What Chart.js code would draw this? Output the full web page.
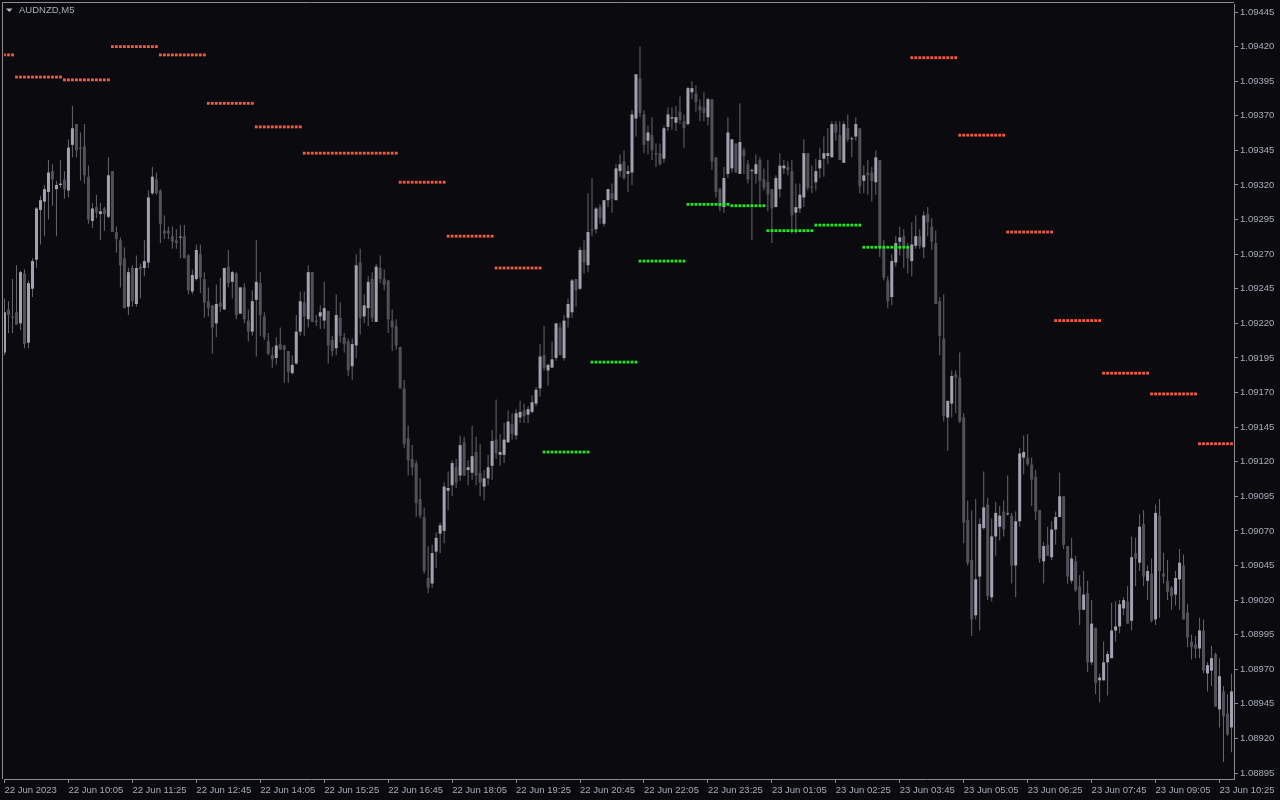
<!DOCTYPE html>
<html>
<head>
<meta charset="utf-8">
<title>AUDNZD,M5</title>
<script src="https://cdn.jsdelivr.net/npm/chart.js@4.4.0/dist/chart.umd.min.js"></script>
<style>
    html, body { margin: 0; padding: 0; background: #0a0a0f; }
    canvas { display: block; }
</style>
</head>
<body>
<canvas id="myChart" width="1280" height="800"></canvas>
<script>
//AUDNZD M5 candles, oldest bar first
const openPrices = [
    1.09199,1.09230,1.09225,1.09228,1.09220,1.09256,1.09206,1.09245,1.09266,1.09302,
    1.09308,1.09315,1.09330,1.09317,1.09320,1.09324,1.09316,1.09349,1.09364,1.09347,
    1.09348,1.09326,1.09294,1.09304,1.09299,1.09303,1.09297,1.09330,1.09286,1.09280,
    1.09267,1.09232,1.09260,1.09234,1.09261,1.09260,1.09264,1.09314,1.09324,1.09316,
    1.09287,1.09287,1.09283,1.09280,1.09282,1.09283,1.09269,1.09243,1.09252,1.09270,
    1.09252,1.09236,1.09233,1.09220,1.09235,1.09230,1.09261,1.09250,1.09256,1.09227,
    1.09246,1.09222,1.09214,1.09237,1.09249,1.09225,1.09207,1.09197,1.09195,1.09205,
    1.09204,1.09200,1.09184,1.09191,1.09214,1.09235,1.09223,1.09257,1.09222,1.09225,
    1.09222,1.09229,1.09208,1.09202,1.09224,1.09210,1.09207,1.09189,1.09204,1.09264,
    1.09225,1.09231,1.09252,1.09221,1.09260,1.09252,1.09251,1.09222,1.09218,1.09203,
    1.09173,1.09137,1.09122,1.09119,1.09093,1.09080,1.09036,1.09032,1.09055,1.09068,
    1.09070,1.09099,1.09103,1.09116,1.09110,1.09134,1.09114,1.09112,1.09127,1.09112,
    1.09102,1.09108,1.09117,1.09136,1.09125,1.09125,1.09134,1.09147,1.09139,1.09152,
    1.09157,1.09154,1.09156,1.09162,1.09173,1.09197,1.09186,1.09188,1.09195,1.09217,
    1.09195,1.09224,1.09228,1.09252,1.09245,1.09273,1.09262,1.09288,1.09288,1.09304,
    1.09292,1.09309,1.09314,1.09309,1.09330,1.09337,1.09328,1.09329,1.09368,1.09397,
    1.09371,1.09352,1.09356,1.09343,1.09343,1.09339,1.09362,1.09368,1.09365,1.09373,
    1.09366,1.09364,1.09387,1.09386,1.09377,1.09376,1.09369,1.09382,1.09340,1.09317,
    1.09304,1.09328,1.09332,1.09350,1.09328,1.09345,1.09335,1.09330,1.09328,1.09338,
    1.09324,1.09322,1.09317,1.09304,1.09317,1.09332,1.09333,1.09330,1.09300,1.09303,
    1.09311,1.09343,1.09319,1.09322,1.09332,1.09339,1.09341,1.09340,1.09364,1.09356,
    1.09336,1.09361,1.09353,1.09355,1.09361,1.09323,1.09329,1.09329,1.09322,1.09338,
    1.09275,1.09251,1.09239,1.09264,1.09279,1.09283,1.09276,1.09265,1.09276,1.09283,
    1.09275,1.09299,1.09290,1.09278,1.09236,1.09209,1.09152,1.09162,1.09183,1.09181,
    1.09152,1.09078,1.09049,1.09009,1.09037,1.09072,1.09089,1.09022,1.09066,1.09073,
    1.09084,1.09082,1.09081,1.09045,1.09077,1.09123,1.09123,1.09118,1.09109,1.09085,
    1.09048,1.09060,1.09051,1.09071,1.09080,1.09095,1.09059,1.09034,1.09048,1.09030,
    1.09013,1.09025,1.08975,1.09000,1.08962,1.08962,1.08975,1.08978,1.08998,1.09001,
    1.09014,1.09019,1.09005,1.09054,1.09047,1.09075,1.09034,1.09039,1.09006,1.09081,
    1.09039,1.09034,1.09029,1.09024,1.09035,1.09045,1.09011,1.08990,1.08988,1.08985,
    1.08998,1.08967,1.08969,1.08981,1.08941,1.08954,1.08938,1.08928
];
const highPrices = [
    1.09238,1.09236,1.09252,1.09262,1.09258,1.09259,1.09251,1.09267,1.09304,1.09312,
    1.09320,1.09338,1.09335,1.09323,1.09338,1.09330,1.09353,1.09377,1.09364,1.09358,
    1.09364,1.09334,1.09307,1.09313,1.09307,1.09304,1.09340,1.09330,1.09290,1.09282,
    1.09275,1.09260,1.09262,1.09269,1.09263,1.09280,1.09316,1.09333,1.09329,1.09317,
    1.09298,1.09290,1.09290,1.09288,1.09291,1.09291,1.09270,1.09259,1.09277,1.09277,
    1.09257,1.09246,1.09233,1.09248,1.09253,1.09260,1.09273,1.09258,1.09257,1.09246,
    1.09249,1.09230,1.09244,1.09280,1.09257,1.09228,1.09213,1.09203,1.09210,1.09217,
    1.09204,1.09200,1.09197,1.09226,1.09243,1.09243,1.09262,1.09257,1.09226,1.09233,
    1.09250,1.09229,1.09211,1.09241,1.09235,1.09213,1.09209,1.09209,1.09270,1.09274,
    1.09241,1.09254,1.09257,1.09263,1.09269,1.09259,1.09251,1.09230,1.09223,1.09203,
    1.09179,1.09146,1.09132,1.09121,1.09108,1.09087,1.09059,1.09060,1.09069,1.09076,
    1.09105,1.09113,1.09121,1.09122,1.09139,1.09138,1.09121,1.09146,1.09138,1.09133,
    1.09114,1.09125,1.09143,1.09165,1.09140,1.09148,1.09157,1.09155,1.09158,1.09164,
    1.09162,1.09160,1.09168,1.09174,1.09205,1.09218,1.09191,1.09207,1.09220,1.09220,
    1.09226,1.09238,1.09252,1.09252,1.09275,1.09280,1.09314,1.09325,1.09304,1.09306,
    1.09309,1.09317,1.09321,1.09335,1.09342,1.09345,1.09334,1.09374,1.09400,1.09420,
    1.09374,1.09363,1.09369,1.09350,1.09350,1.09363,1.09376,1.09376,1.09377,1.09384,
    1.09371,1.09391,1.09395,1.09392,1.09382,1.09387,1.09383,1.09382,1.09340,1.09318,
    1.09333,1.09369,1.09353,1.09350,1.09379,1.09347,1.09338,1.09332,1.09342,1.09340,
    1.09332,1.09338,1.09317,1.09327,1.09343,1.09338,1.09337,1.09338,1.09321,1.09321,
    1.09353,1.09343,1.09334,1.09339,1.09347,1.09355,1.09361,1.09366,1.09366,1.09366,
    1.09366,1.09371,1.09355,1.09369,1.09361,1.09334,1.09338,1.09333,1.09345,1.09338,
    1.09280,1.09254,1.09270,1.09283,1.09290,1.09288,1.09278,1.09293,1.09298,1.09288,
    1.09301,1.09304,1.09296,1.09287,1.09239,1.09241,1.09164,1.09186,1.09186,1.09199,
    1.09155,1.09092,1.09085,1.09093,1.09079,1.09113,1.09094,1.09079,1.09091,1.09088,
    1.09092,1.09110,1.09083,1.09084,1.09130,1.09139,1.09140,1.09123,1.09114,1.09085,
    1.09062,1.09073,1.09077,1.09084,1.09112,1.09095,1.09059,1.09065,1.09052,1.09038,
    1.09041,1.09034,1.09020,1.09000,1.08967,1.08990,1.08983,1.09018,1.09019,1.09020,
    1.09022,1.09030,1.09066,1.09065,1.09082,1.09085,1.09045,1.09050,1.09089,1.09093,
    1.09054,1.09049,1.09030,1.09041,1.09057,1.09053,1.09017,1.08995,1.08994,1.09007,
    1.09006,1.08975,1.08987,1.08982,1.08978,1.08958,1.08952,1.08967
];
const lowPrices = [
    1.09197,1.09213,1.09213,1.09224,1.09215,1.09202,1.09202,1.09239,1.09260,1.09277,
    1.09283,1.09295,1.09305,1.09283,1.09318,1.09310,1.09311,1.09340,1.09340,1.09323,
    1.09321,1.09292,1.09289,1.09296,1.09280,1.09287,1.09296,1.09286,1.09271,1.09246,
    1.09231,1.09226,1.09232,1.09232,1.09238,1.09254,1.09260,1.09313,1.09313,1.09278,
    1.09281,1.09281,1.09274,1.09274,1.09267,1.09267,1.09241,1.09241,1.09251,1.09242,
    1.09224,1.09225,1.09198,1.09210,1.09228,1.09230,1.09246,1.09238,1.09223,1.09227,
    1.09220,1.09207,1.09211,1.09196,1.09211,1.09208,1.09197,1.09188,1.09190,1.09201,
    1.09177,1.09177,1.09183,1.09190,1.09211,1.09211,1.09217,1.09221,1.09218,1.09216,
    1.09216,1.09191,1.09196,1.09197,1.09206,1.09199,1.09182,1.09179,1.09195,1.09212,
    1.09220,1.09218,1.09221,1.09221,1.09249,1.09244,1.09213,1.09200,1.09201,1.09173,
    1.09130,1.09110,1.09110,1.09080,1.09079,1.09039,1.09025,1.09029,1.09043,1.09054,
    1.09061,1.09085,1.09095,1.09101,1.09106,1.09110,1.09103,1.09107,1.09103,1.09095,
    1.09092,1.09103,1.09107,1.09122,1.09117,1.09119,1.09134,1.09136,1.09136,1.09148,
    1.09148,1.09148,1.09155,1.09160,1.09167,1.09186,1.09175,1.09188,1.09193,1.09197,
    1.09193,1.09217,1.09224,1.09232,1.09244,1.09256,1.09257,1.09283,1.09285,1.09292,
    1.09290,1.09304,1.09300,1.09309,1.09326,1.09324,1.09315,1.09320,1.09355,1.09369,
    1.09343,1.09342,1.09338,1.09333,1.09334,1.09336,1.09359,1.09360,1.09359,1.09364,
    1.09347,1.09363,1.09382,1.09373,1.09366,1.09366,1.09363,1.09331,1.09311,1.09301,
    1.09300,1.09325,1.09329,1.09329,1.09328,1.09328,1.09321,1.09280,1.09321,1.09306,
    1.09316,1.09301,1.09278,1.09304,1.09311,1.09328,1.09327,1.09285,1.09285,1.09300,
    1.09304,1.09316,1.09314,1.09316,1.09325,1.09326,1.09335,1.09340,1.09352,1.09338,
    1.09336,1.09351,1.09340,1.09352,1.09314,1.09314,1.09313,1.09308,1.09313,1.09268,
    1.09251,1.09231,1.09233,1.09261,1.09269,1.09260,1.09256,1.09254,1.09274,1.09274,
    1.09267,1.09283,1.09273,1.09234,1.09197,1.09149,1.09128,1.09152,1.09155,1.09148,
    1.09061,1.09045,1.08994,1.09006,1.08998,1.09071,1.09020,1.09019,1.09052,1.09063,
    1.09066,1.09081,1.09032,1.09022,1.09073,1.09111,1.09117,1.09088,1.09078,1.09047,
    1.09032,1.09052,1.09049,1.09060,1.09080,1.09057,1.09032,1.09032,1.09026,1.09002,
    1.09013,1.08968,1.08973,1.08952,1.08946,1.08962,1.08951,1.08978,1.08990,1.08996,
    1.09009,1.09003,1.08998,1.09030,1.09041,1.09030,1.09020,1.09004,1.09002,1.09007,
    1.09032,1.09020,1.09013,1.09016,1.09013,1.09006,1.08986,1.08977,1.08978,1.08978,
    1.08967,1.08954,1.08958,1.08943,1.08928,1.08903,1.08922,1.08910
];
const closePrices = [
    1.09228,1.09226,1.09224,1.09219,1.09257,1.09205,1.09249,1.09265,1.09303,1.09309,
    1.09317,1.09329,1.09324,1.09320,1.09321,1.09317,1.09347,1.09361,1.09345,1.09346,
    1.09327,1.09295,1.09303,1.09300,1.09301,1.09299,1.09327,1.09286,1.09281,1.09262,
    1.09231,1.09257,1.09236,1.09260,1.09259,1.09265,1.09311,1.09326,1.09314,1.09292,
    1.09285,1.09285,1.09279,1.09278,1.09282,1.09267,1.09244,1.09255,1.09273,1.09253,
    1.09235,1.09231,1.09217,1.09234,1.09232,1.09260,1.09249,1.09257,1.09226,1.09246,
    1.09223,1.09214,1.09236,1.09250,1.09226,1.09210,1.09198,1.09194,1.09204,1.09201,
    1.09201,1.09185,1.09190,1.09214,1.09236,1.09225,1.09257,1.09221,1.09221,1.09228,
    1.09231,1.09204,1.09200,1.09226,1.09211,1.09205,1.09186,1.09205,1.09262,1.09224,
    1.09233,1.09250,1.09224,1.09261,1.09252,1.09248,1.09223,1.09217,1.09204,1.09173,
    1.09133,1.09121,1.09116,1.09090,1.09081,1.09041,1.09029,1.09054,1.09065,1.09074,
    1.09102,1.09101,1.09119,1.09105,1.09132,1.09110,1.09116,1.09124,1.09110,1.09105,
    1.09108,1.09116,1.09135,1.09126,1.09127,1.09136,1.09149,1.09140,1.09155,1.09156,
    1.09153,1.09158,1.09163,1.09172,1.09196,1.09188,1.09190,1.09194,1.09220,1.09197,
    1.09222,1.09234,1.09251,1.09244,1.09273,1.09264,1.09286,1.09287,1.09303,1.09296,
    1.09309,1.09317,1.09310,1.09332,1.09335,1.09325,1.09330,1.09371,1.09400,1.09372,
    1.09349,1.09358,1.09345,1.09342,1.09335,1.09361,1.09371,1.09369,1.09369,1.09367,
    1.09361,1.09390,1.09390,1.09380,1.09374,1.09372,1.09382,1.09337,1.09315,1.09304,
    1.09325,1.09358,1.09353,1.09329,1.09351,1.09341,1.09324,1.09330,1.09335,1.09323,
    1.09318,1.09313,1.09303,1.09325,1.09334,1.09334,1.09331,1.09298,1.09304,1.09313,
    1.09343,1.09318,1.09318,1.09330,1.09338,1.09343,1.09343,1.09364,1.09358,1.09338,
    1.09364,1.09353,1.09353,1.09364,1.09319,1.09327,1.09327,1.09323,1.09340,1.09275,
    1.09253,1.09236,1.09265,1.09278,1.09282,1.09276,1.09267,1.09277,1.09283,1.09276,
    1.09298,1.09293,1.09279,1.09234,1.09211,1.09153,1.09164,1.09182,1.09181,1.09149,
    1.09076,1.09047,1.09006,1.09035,1.09075,1.09087,1.09023,1.09066,1.09083,1.09081,
    1.09071,1.09082,1.09045,1.09077,1.09126,1.09127,1.09118,1.09107,1.09084,1.09050,
    1.09059,1.09052,1.09071,1.09080,1.09095,1.09060,1.09037,1.09050,1.09027,1.09013,
    1.09024,1.08975,1.09003,1.08960,1.08964,1.08975,1.08981,1.08998,1.09001,1.09017,
    1.09020,1.09003,1.09051,1.09050,1.09073,1.09037,1.09041,1.09005,1.09083,1.09041,
    1.09037,1.09026,1.09023,1.09036,1.09047,1.09006,1.08993,1.08986,1.08985,1.08998,
    1.08969,1.08973,1.08978,1.08943,1.08965,1.08936,1.08923,1.08954
];

//Hourly levels (dotted runs): first bar, last bar, price
const resistStart = [0, 3, 15, 27, 39, 51, 63, 75, 99, 111, 123, 227, 239, 251, 263, 275, 287, 299];
const resistEnd = [2, 14, 26, 38, 50, 62, 74, 98, 110, 122, 134, 238, 250, 262, 274, 286, 298, 307];
const resistPrice = [1.09414, 1.09398, 1.09396, 1.09420, 1.09414, 1.09379, 1.09362, 1.09343, 1.09322, 1.09283, 1.09260,
    1.09412, 1.09356, 1.09286, 1.09222, 1.09184, 1.09169, 1.09133];
const supportStart = [135, 147, 159, 171, 182, 191, 203, 215];
const supportEnd = [146, 158, 170, 181, 190, 202, 214, 226];
const supportPrice = [1.09127, 1.09192, 1.09265, 1.09306, 1.09305, 1.09287, 1.09291, 1.09275];

//Axis ticks
const timeTickBars = [0, 16, 32, 48, 64, 80, 96, 112, 128, 144, 160, 176, 192, 208, 224, 240, 256, 272, 288, 304];
const timeLabels = ['22 Jun 2023', '22 Jun 10:05', '22 Jun 11:25', '22 Jun 12:45', '22 Jun 14:05', '22 Jun 15:25',
    '22 Jun 16:45', '22 Jun 18:05', '22 Jun 19:25', '22 Jun 20:45', '22 Jun 22:05', '22 Jun 23:25', '23 Jun 01:05',
    '23 Jun 02:25', '23 Jun 03:45', '23 Jun 05:05', '23 Jun 06:25', '23 Jun 07:45', '23 Jun 09:05', '23 Jun 10:25'];
const priceTicks = [1.09445, 1.09420, 1.09395, 1.09370, 1.09345, 1.09320, 1.09295, 1.09270, 1.09245, 1.09220, 1.09195,
    1.09170, 1.09145, 1.09120, 1.09095, 1.09070, 1.09045, 1.09020, 1.08995, 1.08970, 1.08945, 1.08920, 1.08895];

const axisColor = '#8e8e96';
const textColor = '#a6adba';
const labelFont = { family: 'Liberation Sans', size: 9.5 };

//Build chart data
const wickData = lowPrices.map((low, i) => ({ x: i, y: [low, highPrices[i]] }));
const bodyData = openPrices.map((open, i) => ({
    x: i,
    y: [Math.min(open, closePrices[i]), Math.max(open, closePrices[i])]
}));

function levelPoints(starts, ends, prices) {
    const points = [];
    for (let k = 0; k < starts.length; k++) {
        for (let i = starts[k]; i <= ends[k]; i++) {
            points.push({ x: i, y: prices[k] });
        }
    }
    return points;
}

//Background, frame and symbol caption
const chartFrame = {
    id: 'chartFrame',
    beforeDraw(chart) {
        const c = chart.ctx;
        c.save();
        c.fillStyle = '#0a0a0f';
        c.fillRect(0, 0, chart.width, chart.height);
        c.restore();
    },
    afterDraw(chart) {
        const c = chart.ctx;
        const area = chart.chartArea;
        c.save();
        c.strokeStyle = axisColor;
        c.lineWidth = 1;
        c.beginPath();
        c.moveTo(2.5, area.bottom);
        c.lineTo(2.5, 2.5);
        c.lineTo(area.right, 2.5);
        c.stroke();
        c.fillStyle = '#b8bcc6';
        c.beginPath();
        c.moveTo(6, 8.5);
        c.lineTo(12.5, 8.5);
        c.lineTo(9.25, 12);
        c.closePath();
        c.fill();
        c.fillStyle = textColor;
        c.font = '9.5px "Liberation Sans"';
        c.textBaseline = 'middle';
        c.fillText('AUDNZD,M5', 19, 10.5);
        c.restore();
    }
};

const ctx = document.getElementById('myChart').getContext('2d');
const myChart = new Chart(ctx, {
    type: 'bar',
    data: {
        datasets: [
            {
                type: 'line',
                label: 'Resistance',
                data: levelPoints(resistStart, resistEnd, resistPrice),
                showLine: false,
                pointStyle: 'rect',
                pointRadius: 2,
                pointBorderWidth: 0,
                pointBackgroundColor: '#f45b3e',
                order: 0
            },
            {
                type: 'line',
                label: 'Support',
                data: levelPoints(supportStart, supportEnd, supportPrice),
                showLine: false,
                pointStyle: 'rect',
                pointRadius: 2,
                pointBorderWidth: 0,
                pointBackgroundColor: '#22e622',
                order: 0
            },
            {
                label: 'Body',
                data: bodyData,
                backgroundColor: (c) => closePrices[c.dataIndex] >= openPrices[c.dataIndex] ? '#a2a2b0' : '#515158',
                barThickness: 3,
                minBarLength: 1,
                inflateAmount: 0,
                borderWidth: 0,
                grouped: false,
                order: 1
            },
            {
                label: 'Wick',
                data: wickData,
                backgroundColor: '#66666e',
                barThickness: 1,
                inflateAmount: 0,
                borderWidth: 0,
                grouped: false,
                order: 2
            }
        ]
    },
    options: {
        responsive: false,
        animation: false,
        devicePixelRatio: 1,
        layout: { padding: { left: 3, top: 3, right: 0, bottom: 0 } },
        plugins: {
            legend: { display: false },
            tooltip: { enabled: false }
        },
        scales: {
            x: {
                type: 'linear',
                min: -0.125,
                max: 307.625,
                offset: false,
                grid: { drawOnChartArea: false, tickLength: 4, color: axisColor, offset: false },
                border: { color: axisColor },
                ticks: {
                    color: textColor,
                    font: labelFont,
                    align: 'start',
                    padding: 2,
                    autoSkip: false,
                    maxRotation: 0,
                    minRotation: 0,
                    callback: (value) => timeLabels[timeTickBars.indexOf(value)]
                },
                afterBuildTicks: (scale) => {
                    scale.ticks = timeTickBars.map(v => ({ value: v }));
                },
                afterFit: (scale) => {
                    scale.height = 21;
                    scale.paddingLeft = 0;
                    scale.paddingRight = 0;
                }
            },
            y: {
                position: 'right',
                min: 1.088907,
                max: 1.094508,
                grid: { drawOnChartArea: false, tickLength: 4, color: axisColor },
                border: { color: axisColor },
                ticks: {
                    color: textColor,
                    font: labelFont,
                    padding: 2,
                    autoSkip: false,
                    callback: (value) => value.toFixed(5)
                },
                afterBuildTicks: (scale) => {
                    scale.ticks = priceTicks.map(v => ({ value: v }));
                },
                afterFit: (scale) => {
                    scale.width = 46;
                    scale.paddingTop = 0;
                    scale.paddingBottom = 0;
                }
            }
        }
    },
    plugins: [chartFrame]
});
</script>
</body>
</html>
